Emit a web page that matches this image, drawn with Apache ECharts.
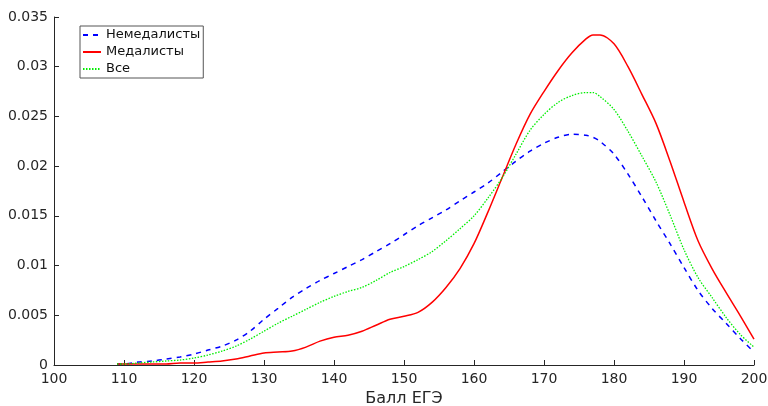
<!DOCTYPE html>
<html>
<head>
<meta charset="utf-8">
<script src="https://cdn.jsdelivr.net/npm/echarts@6/dist/echarts.min.js"></script>
<style>
  html, body { margin: 0; padding: 0; background: #fff; }
  #chart { width: 768px; height: 406px; }
</style>
</head>
<body>
<div id="chart"></div>
<script>
// баллы ЕГЭ (ось x)
var scores = [109,110,112,114,116,118,120,122,124,126,128,130,132,134,136,138,140,142,144,146,148,150,
  152,154,156,158,160,162,164,166,168,170,172,174,176,177,178,180,182,184,186,188,190,192,194,196,198,200];

var nonMedal = [0.0001,0.0001,0.0003,0.0004,0.0006,0.0008,0.0011,0.0015,0.0019,0.0025,0.0034,0.0046,0.0057,
  0.0068,0.0077,0.0085,0.0092,0.0099,0.0106,0.0114,0.0122,0.0131,0.0140,0.0148,0.0156,0.0165,0.0174,0.0183,
  0.0194,0.0205,0.0215,0.0223,0.0229,0.0232,0.0231,0.0229,0.0225,0.0212,0.0192,0.0169,0.0145,0.0122,0.0098,
  0.0075,0.0057,0.0042,0.0027,0.0013];

var medal = [0.0001,0.0001,0.0001,0.0001,0.0001,0.0002,0.0002,0.0003,0.0004,0.0006,0.0009,0.0012,0.0013,
  0.0014,0.0018,0.0024,0.0028,0.0030,0.0034,0.0040,0.0046,0.0049,0.0053,0.0063,0.0078,0.0097,0.0122,0.0154,
  0.0188,0.0222,0.0252,0.0275,0.0296,0.0314,0.0328,0.0332,0.0332,0.0323,0.0300,0.0272,0.0243,0.0205,0.0164,
  0.0125,0.0097,0.0073,0.0050,0.0026];

var allStud = [0.0001,0.0001,0.0002,0.0003,0.0004,0.0005,0.0007,0.0010,0.0014,0.0019,0.0026,0.0034,0.0042,
  0.0049,0.0056,0.0063,0.0069,0.0074,0.0078,0.0085,0.0093,0.0099,0.0106,0.0114,0.0125,0.0137,0.0150,0.0168,
  0.0188,0.0212,0.0236,0.0252,0.0264,0.0271,0.0274,0.0274,0.0270,0.0257,0.0235,0.0210,0.0184,0.0151,0.0116,
  0.0088,0.0068,0.0048,0.0031,0.0018];

var names = ['Немедалисты', 'Медалисты', 'Все'];

function pairs(ys) {
  var out = [];
  for (var i = 0; i < scores.length; i++) out.push([scores[i], ys[i]]);
  return out;
}

var axisCol = '#262626';
var font = 'DejaVu Sans, sans-serif';

var chart = echarts.init(document.getElementById('chart'), null, {renderer: 'canvas'});
chart.setOption({
  animation: false,
  backgroundColor: '#fff',
  grid: { left: 54, right: 14, top: 17, bottom: 41, outerBoundsMode: 'none', containLabel: false },
  legend: {
    left: 80, top: 26, orient: 'vertical',
    padding: [2, 3, 2, 2],
    itemWidth: 18, itemHeight: 14, itemGap: 3,
    backgroundColor: '#fff', borderColor: '#555', borderWidth: 1,
    itemStyle: { opacity: 0 },
    textStyle: { fontFamily: font, fontSize: 13, color: '#111', lineHeight: 14 },
    data: names
  },
  xAxis: {
    type: 'value', min: 100, max: 200, interval: 10,
    name: 'Балл ЕГЭ', nameLocation: 'middle', nameGap: 24,
    nameTextStyle: { fontFamily: font, fontSize: 16, color: axisCol },
    axisLine: { show: true, lineStyle: { color: axisCol, width: 1 } },
    axisTick: { show: true, inside: true, length: 5, lineStyle: { color: axisCol } },
    axisLabel: { fontFamily: font, fontSize: 14, color: axisCol, margin: 7 },
    splitLine: { show: false }
  },
  yAxis: {
    type: 'value', min: 0, max: 0.035, interval: 0.005,
    axisLine: { show: true, lineStyle: { color: axisCol, width: 1 } },
    axisTick: { show: true, inside: true, length: 5, lineStyle: { color: axisCol } },
    axisLabel: {
      fontFamily: font, fontSize: 14, color: axisCol, margin: 6,
      formatter: function (v) { return String(+v.toFixed(3)); }
    },
    splitLine: { show: false }
  },
  series: [
    {
      name: names[0], type: 'line', data: pairs(nonMedal), smooth: 0.3,
      symbol: 'none', color: '#0000ff',
      lineStyle: { color: '#0000ff', width: 1.5, type: [5, 5] }
    },
    {
      name: names[1], type: 'line', data: pairs(medal), smooth: 0.3,
      symbol: 'none', color: '#ff0000',
      lineStyle: { color: '#ff0000', width: 1.5 }
    },
    {
      name: names[2], type: 'line', data: pairs(allStud), smooth: 0.3,
      symbol: 'none', color: '#00ee00',
      lineStyle: { color: '#00ee00', width: 1.3, type: [1.5, 1.5] }
    }
  ]
});
</script>
</body>
</html>
